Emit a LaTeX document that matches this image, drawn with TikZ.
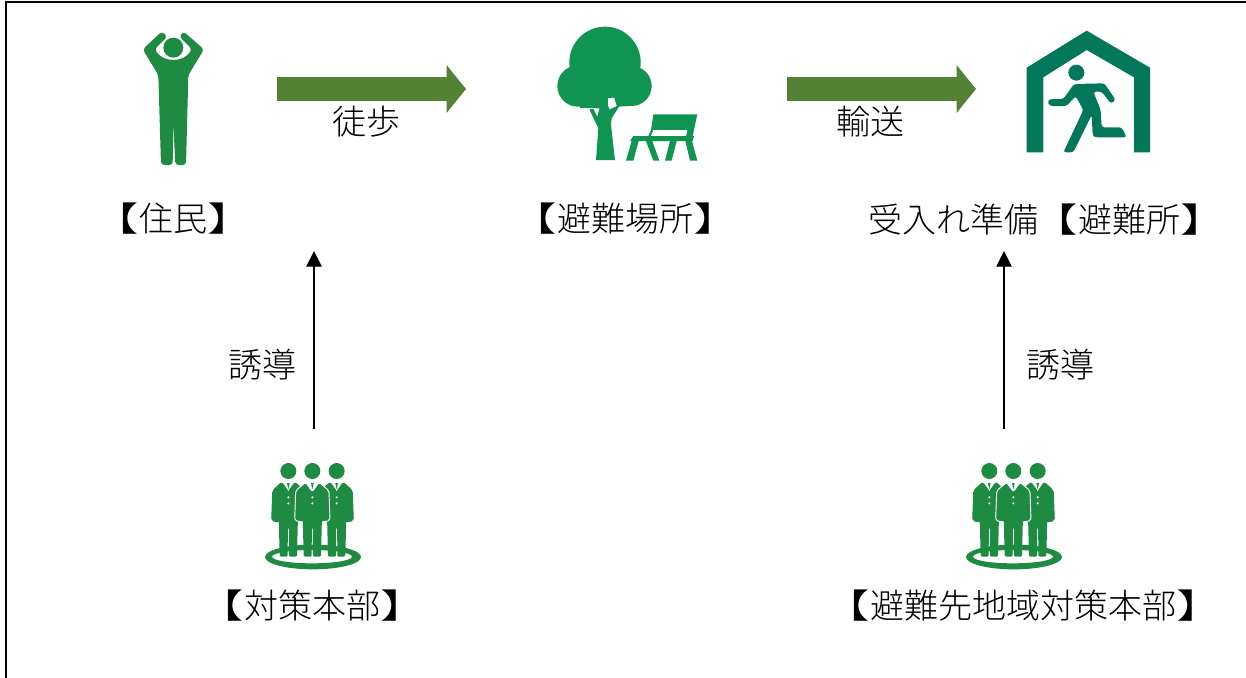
\documentclass[tikz,border=0pt]{standalone}
\usepackage{fontspec}
\usepackage{graphicx}
\usetikzlibrary{arrows.meta}
\newfontfamily\cjk{Noto Sans CJK JP Light}
\definecolor{pgreen}{HTML}{1F8B42}
\definecolor{tgreen}{HTML}{0F9452}
\definecolor{hgreen}{HTML}{03775A}
\definecolor{agreen}{HTML}{548235}
\newcommand{\lbk}{\makebox[1em][r]{\scalebox{1.4}[1]{【}}}
\newcommand{\rbk}{\makebox[1em][l]{\scalebox{1.4}[1]{】}}}
\tikzset{
  lbl/.style={font=\cjk\fontsize{25.5}{25.5}\selectfont,inner sep=0pt,text=black},
  bigarrow/.style={draw=agreen,line width=17.6pt,-{Triangle[length=14.5pt,width=35pt]}},
  thinarrow/.style={draw=black,line width=0.85pt,-{Triangle[length=11.7pt,width=11.5pt]}},
  zoomed/.style={x=0.25pt,y=-0.25pt}
}
\newcommand{\suitman}[2]{% half-width of torso, outline colour of the torso
  \fill[pgreen] (0,63) circle [radius=24];
  \filldraw[draw=#2,fill=pgreen,line width=0.7pt,rounded corners=1.5pt] (-#1,122) -- (-20,97) -- (0,125) -- (20,97) -- (#1,122) -- (#1+3,212) -- (28,216) -- (-28,216) -- (-#1-3,212) -- cycle;
  \fill[pgreen,rounded corners=1pt] (-29,195) -- (-26,320) -- (-2,320) -- (-1.5,232) -- (1.5,232) -- (2,320) -- (26,320) -- (29,195) -- cycle;
  \fill[white] (-9,97) -- (9,97) -- (0,124) -- cycle;
  \fill[pgreen] (-4,99) -- (4,99) -- (0,118) -- cycle;
  \fill[white] (0,142) circle [radius=3.5] (0,160) circle [radius=3.5];
}
\newcommand{\teampic}{%
  \fill[pgreen,even odd rule] (189,321) ellipse [x radius=144,y radius=37] (186,320) ellipse [x radius=120,y radius=20];
  \begin{scope}[shift={(115*0.25pt,0)}]\suitman{47}{pgreen}\end{scope}
  \begin{scope}[shift={(260*0.25pt,0)}]\suitman{47}{pgreen}\end{scope}
  \begin{scope}[shift={(187*0.25pt,0)}]\suitman{50}{white}\end{scope}
}
\begin{document}
\begin{tikzpicture}[x=0.75pt,y=-0.75pt]
\useasboundingbox (0,0) rectangle (1246,678);
\draw[black,line width=1.5pt] (6,678) -- (6,2) -- (1246,2);
% person
\begin{scope}[shift={(100,10)},zoomed]
  \fill[pgreen] (220,113) circle [radius=30];
  \fill[pgreen,rounded corners=2.5pt] (186,64) -- (128,118) -- (175,195) -- (183,465) -- (218,465) -- (220,340) -- (226,465) -- (258,465) -- (265,195) -- (312,118) -- (250,64) -- (238,80) -- (276,117) .. controls (250,158) and (190,158) .. (164,117) -- (202,80) -- cycle;
\end{scope}
% tree
\begin{scope}[shift={(540,10)},zoomed]
  \fill[tgreen] (195,157) circle [radius=107] (114,228) circle [radius=62] (275,228) circle [radius=60];
  \fill[tgreen] (120,180) rectangle (270,263);
  \fill[tgreen] (120,200) rectangle (205,295);
  \fill[tgreen] (222,263) -- (230,290) -- (270,288) -- (270,263) -- cycle;
  \fill[tgreen] (168,450) -- (175,355) -- (148,298) -- (240,285) -- (215,325) -- (213,345) -- (225,450) -- cycle;
  \fill[white] (160,295) -- (178,295) -- (172,320) -- cycle;
  \fill[white] (205,265) -- (222,263) -- (230,288) -- (208,298) -- cycle;
  \fill[tgreen] (340,313) -- (472,313) -- (458,378) -- (325,378) -- (333,360) -- cycle;
  \fill[white] (340,360) -- (442,360) -- (438,378) -- (333,378) -- cycle;
  \fill[tgreen] (280,378) -- (462,378) -- (458,393) -- (270,393) -- cycle;
  \fill[tgreen] (258,452) -- (280,452) -- (296,393) -- (275,393) -- cycle;
  \fill[tgreen] (340,452) -- (358,452) -- (337,393) -- (318,393) -- cycle;
  \fill[tgreen] (375,452) -- (395,452) -- (410,393) -- (390,393) -- cycle;
  \fill[tgreen] (450,452) -- (472,452) -- (456,393) -- (436,393) -- cycle;
\end{scope}
% shelter
\begin{scope}[shift={(1010,20)},zoomed]
  \fill[hgreen] (50,397) -- (50,143) -- (230,32) -- (420,143) -- (420,397) -- (372,397) -- (372,172) -- (230,90) -- (100,172) -- (100,397) -- cycle;
  \fill[hgreen] (199,158) circle [radius=24];
  \fill[hgreen,rounded corners=2pt] (192,192) -- (283,190) -- (317,240) -- (303,251) -- (275,215) -- (250,215) -- (272,270) -- (275,322) -- (335,322) -- (350,352) -- (255,352) -- (248,345) -- (245,285) -- (190,397) -- (160,397) -- (220,270) -- (197,228) -- (170,258) -- (120,258) -- (112,247) -- (120,237) -- (160,237) -- cycle;
\end{scope}
% teams
\begin{scope}[shift={(250,450)},zoomed]\teampic\end{scope}
\begin{scope}[shift={(951,450)},zoomed]\teampic\end{scope}
% labels
\node[lbl] (resident) at (173,219) {\lbk 住民\rbk};
\node[lbl] (refuge) at (625,219) {\lbk 避難場所\rbk};
\node[lbl] (shelter) at (1041,220) {受入れ準備\hspace{4.5pt}\lbk 避難所\rbk};
\node[lbl] (hq) at (312,606) {\lbk 対策本部\rbk};
\node[lbl] (desthq) at (1023,606) {\lbk 避難先地域対策本部\rbk};
\node[lbl] (walk) at (366,122) {徒歩};
\node[lbl] (trans) at (870,122) {輸送};
\node[lbl] (guide1) at (262,365) {誘導};
\node[lbl] (guide2) at (1060,365) {誘導};
% connectors
\coordinate (a1s) at (277,89); \coordinate (a1e) at (466,89);
\coordinate (a2s) at (787,89); \coordinate (a2e) at (976,89);
\coordinate (t1s) at (314,429); \coordinate (t1e) at (314,251);
\coordinate (t2s) at (1004,429); \coordinate (t2e) at (1004,251);
\draw[bigarrow] (a1s) -- (a1e);
\draw[bigarrow] (a2s) -- (a2e);
\draw[thinarrow] (t1s) -- (t1e);
\draw[thinarrow] (t2s) -- (t2e);
\end{tikzpicture}
\end{document}
